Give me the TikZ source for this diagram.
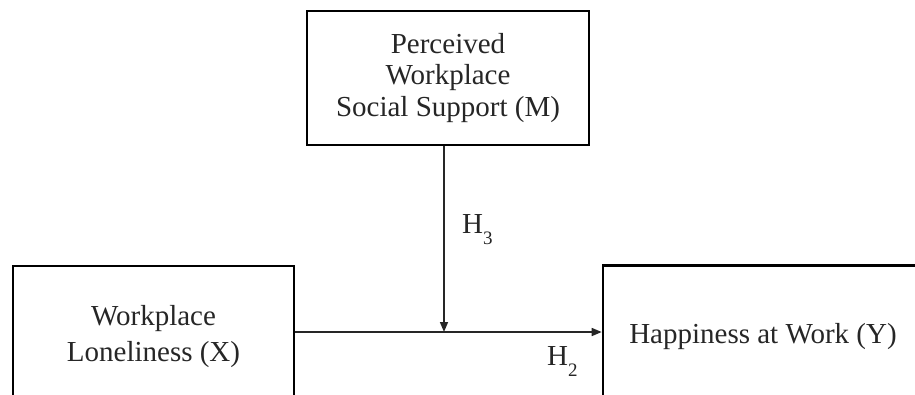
\documentclass[tikz,border=0pt]{standalone}
\usepackage{fontspec}
\setmainfont{Liberation Serif}
\usetikzlibrary{arrows.meta}
\tikzset{
  boxnode/.style={draw=black, line width=2.6pt, rectangle, inner sep=0pt, align=center, text=black!85},
  linkarrow/.style={line width=1.6pt, draw=black!85, -{Triangle[length=10pt,width=8pt]}},
  hlabel/.style={anchor=base west, inner sep=0pt, text=black!85, font=\fontsize{29}{31}\selectfont}
}
\newcommand{\hsub}[1]{\raisebox{-11pt}{\fontsize{19}{19}\selectfont #1}}
\begin{document}
\begin{tikzpicture}[x=1pt,y=-1pt]
\useasboundingbox (0,0) rectangle (915,394);
\clip (0,0) rectangle (915,394);
\node[boxnode, minimum width=282pt, minimum height=134pt, font=\fontsize{29}{31.5}\selectfont] (M) at (448,78) {Perceived\\Workplace\\Social Support (M)};
\node[boxnode, minimum width=281pt, minimum height=142pt, font=\fontsize{29}{36}\selectfont] (X) at (153.5,337) {Workplace\\Loneliness (X)};
\node[boxnode, minimum width=320pt, minimum height=143pt, font=\fontsize{29}{31}\selectfont] (Y) at (763,337) {Happiness at Work (Y)};
\coordinate (j) at (444,332);
\draw[linkarrow] (X.east |- j) -- (Y.west |- j);
\draw[linkarrow] (M.south -| j) -- (j);
\node[hlabel] (h3) at (462,233) {H\hsub{3}};
\node[hlabel] (h2) at (547,365) {H\hsub{2}};
\end{tikzpicture}
\end{document}
